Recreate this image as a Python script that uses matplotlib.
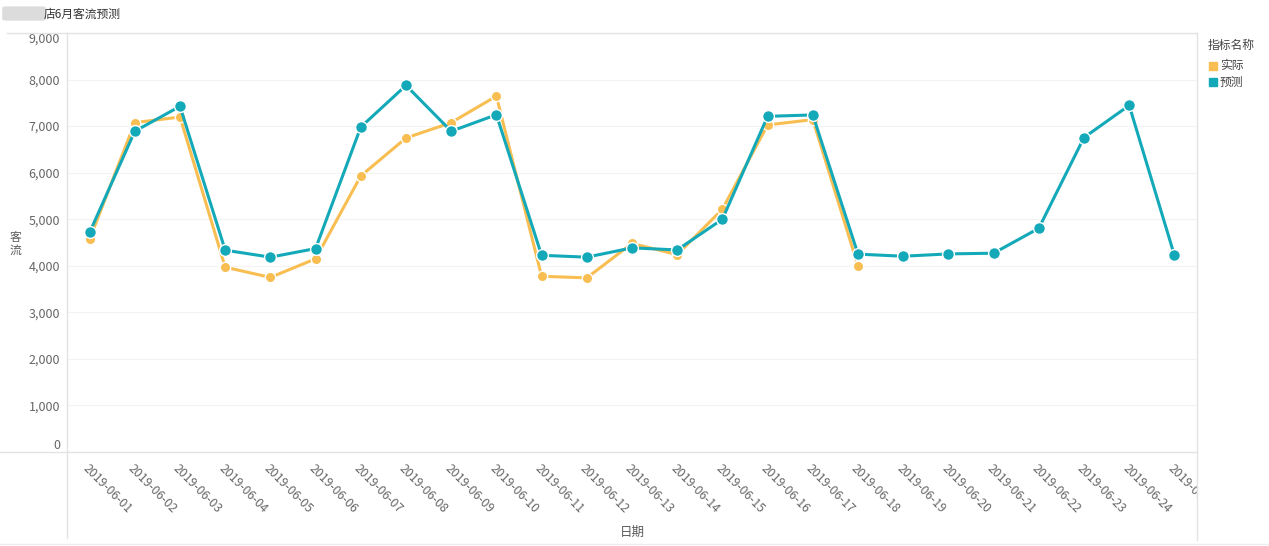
import matplotlib.pyplot as plt
from matplotlib.lines import Line2D
from matplotlib.patches import FancyBboxPatch
from matplotlib.transforms import Bbox, TransformedBbox

plt.rcParams['font.family'] = ['Noto Sans CJK SC', 'DejaVu Sans']

dates = ['2019-06-%02d' % d for d in range(1, 26)]
actual = [4570, 7075, 7195, 3970, 3750, 4150, 5930, 6745, 7075, 7645,
          3775, 3740, 4480, 4240, 5215, 7025, 7140, 4000]
forecast = [4715, 6890, 7425, 4335, 4185, 4370, 6980, 7875, 6890, 7245,
            4225, 4185, 4385, 4340, 5000, 7210, 7240, 4250, 4205, 4255,
            4270, 4805, 6755, 7445, 4225]
yticks = [0, 1000, 2000, 3000, 4000, 5000, 6000, 7000, 8000, 9000]

teal = '#14A9B9'
orange = '#F8BE52'
W, H = 1269, 546

fig = plt.figure(figsize=(W / 100, H / 100), dpi=100)
ax = fig.add_axes([67 / W, (H - 452) / H, (1197 - 67) / W, (452 - 33) / H])

x_act = list(range(len(actual)))
x_fc = list(range(len(forecast)))
ax.plot(x_act, actual, color=orange, linewidth=2.2, marker='o', markersize=7.5,
        markeredgecolor='white', markeredgewidth=1.0, label='实际', zorder=3)
ax.plot(x_fc, forecast, color=teal, linewidth=2.2, marker='o', markersize=8.5,
        markeredgecolor='white', markeredgewidth=1.0, label='预测', zorder=4)

ax.set_xlim(-0.5, len(dates) - 0.5)
ax.set_ylim(0, 9000)
ax.set_yticks(yticks)
ax.set_yticklabels(['{:,}'.format(v) for v in yticks])
ax.grid(axis='y', color='#f3f3f3', linewidth=0.8)
ax.set_axisbelow(True)
for s in ax.spines.values():
    s.set_visible(False)
ax.tick_params(axis='both', length=0, labelsize=9, labelcolor='#666666')
ax.tick_params(axis='y', pad=5)
ylabels = ax.get_yticklabels()
ylabels[0].set_verticalalignment('bottom')
ylabels[-1].set_verticalalignment('top')

ax.set_xticks(x_fc)
ax.set_xticklabels(dates, rotation=-45, ha='left', va='top', rotation_mode='anchor')
ax.tick_params(axis='x', pad=7, labelsize=8.8)
clip = TransformedBbox(Bbox([[0, 0], [1197 / W, 1]]), fig.transFigure)
for lab in ax.get_xticklabels():
    lab.set_clip_on(True)
    lab.set_clip_box(clip)

ax.set_xlabel('日期', fontsize=9, color='#595959', labelpad=2)
ax.xaxis.set_label_coords(0.5, (452 - 526) / (452 - 33))
# stacked vertical axis title
fig.text(15 / W, 1 - 244 / H, '客\n流', fontsize=8.5, color='#595959',
         ha='center', va='center', rotation=0, linespacing=1.0)

# frame lines
lc = '#e3e3e3'
fig.add_artist(Line2D([7 / W, 1197 / W], [1 - 33 / H] * 2, color=lc, lw=1))
fig.add_artist(Line2D([0, 1197 / W], [1 - 452 / H] * 2, color=lc, lw=1))
fig.add_artist(Line2D([67 / W] * 2, [1 - 33 / H, 1 - 538 / H], color=lc, lw=1))
fig.add_artist(Line2D([1197 / W] * 2, [1 - 33 / H, 1 - 540 / H], color=lc, lw=1))
fig.add_artist(Line2D([0, 1], [1 - 544 / H] * 2, color='#eeeeee', lw=1))

# title with blurred prefix
fig.add_artist(FancyBboxPatch((6 / W, 1 - 19 / H), 36 / W, 11 / H,
                              boxstyle='round,pad=0.003', transform=fig.transFigure,
                              facecolor='#dcdcdc', edgecolor='none'))
fig.text(44 / W, 1 - 14 / H, '店6月客流预测', fontsize=8.5, color='#333333',
         ha='left', va='center')

# legend
fig.text(1208 / W, 1 - 46 / H, '指标名称', fontsize=8.5, color='#444444',
         ha='left', va='center')
for i, (lab, col) in enumerate([('实际', orange), ('预测', teal)]):
    yy = 66 + 16 * i
    fig.add_artist(plt.Rectangle((1209 / W, 1 - (yy + 4) / H), 8 / W, 8 / H,
                                 transform=fig.transFigure, color=col))
    fig.text(1220 / W, 1 - yy / H, lab, fontsize=8.5, color='#444444',
             ha='left', va='center')

fig.savefig('out.png', dpi=100)
